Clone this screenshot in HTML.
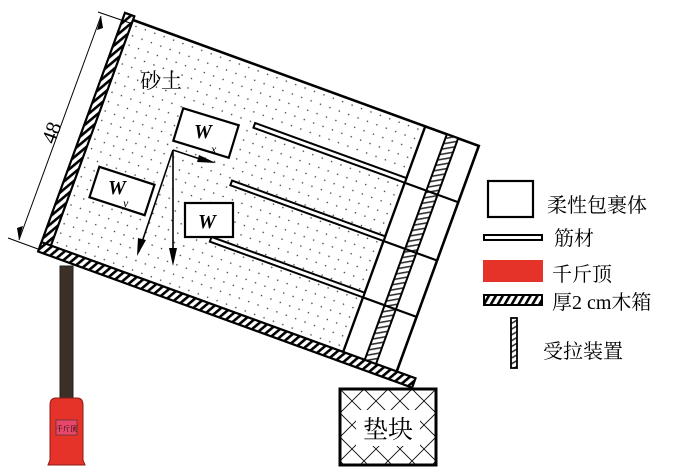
<!DOCTYPE html>
<html><head><meta charset="utf-8"><style>
html,body{margin:0;padding:0;background:#fff;}
svg{display:block;}
text{font-family:"Liberation Serif","Noto Serif CJK SC",serif;}
.cjk{font-family:"Liberation Serif","Noto Serif CJK SC","Noto Sans CJK SC",serif;}
</style></head><body>
<svg width="700" height="475" viewBox="0 0 700 475" xmlns="http://www.w3.org/2000/svg">
<defs>
<pattern id="dots" width="10" height="10" patternUnits="userSpaceOnUse">
<circle cx="5" cy="5" r="0.75" fill="#333"/>
</pattern>
<pattern id="hatch" width="6" height="10" patternUnits="userSpaceOnUse" patternTransform="rotate(30)">
<rect width="6" height="10" fill="#fff"/><rect width="2.6" height="10" fill="#000"/>
</pattern>
<pattern id="hatch2" width="5" height="10" patternUnits="userSpaceOnUse" patternTransform="rotate(60)">
<rect width="5" height="10" fill="#fff"/><rect width="1.6" height="10" fill="#333"/>
</pattern>
<pattern id="xh" width="24" height="24" patternUnits="userSpaceOnUse" x="340" y="389">
<path d="M0 0L24 24M24 0L0 24" stroke="#000" stroke-width="0.8"/>
</pattern>
</defs>

<!-- jack -->
<rect x="60" y="266" width="13" height="136" fill="#3b2f26" stroke="#222" stroke-width="1"/>
<path d="M50 405 Q50 398 56 398 L77 398 Q83 398 83 405 L83 460 L85 465 L48 465 L50 460 Z" fill="#e5332a" stroke="#8a1a14" stroke-width="1"/>
<rect x="56" y="420" width="21" height="15" fill="#e8476a" stroke="#333" stroke-width="0.6"/>
<text x="66.5" y="431" font-size="7" text-anchor="middle" class="cjk">千斤顶</text>

<!-- rotated box -->
<g transform="translate(133,20) rotate(20)">
<rect x="0" y="0" width="368" height="240" fill="#fff"/>
<rect x="0" y="0" width="310" height="240" fill="url(#dots)"/>
<path d="M0 0 L368 0 L368 240" fill="none" stroke="#000" stroke-width="2.6"/>
<rect x="-10" y="-4" width="10" height="248" fill="url(#hatch)" stroke="#000" stroke-width="2.2"/>
<rect x="-10" y="240" width="398" height="10" fill="url(#hatch)" stroke="#000" stroke-width="2.2"/>
<line x1="311" y1="0" x2="311" y2="240" stroke="#000" stroke-width="2.4"/>
<rect x="334" y="0" width="12" height="240" fill="url(#hatch2)" stroke="#000" stroke-width="2"/>
<line x1="311" y1="60" x2="368" y2="60" stroke="#000" stroke-width="2.2"/>
<line x1="311" y1="122" x2="368" y2="122" stroke="#000" stroke-width="2.2"/>
<line x1="311" y1="182" x2="368" y2="182" stroke="#000" stroke-width="2.2"/>
<rect x="150" y="55" width="161" height="5" fill="#fff" stroke="#000" stroke-width="2"/>
<rect x="148" y="117" width="163" height="5" fill="#fff" stroke="#000" stroke-width="2"/>
<rect x="148" y="177" width="163" height="5" fill="#fff" stroke="#000" stroke-width="2"/>
</g>

<!-- W boxes -->
<g transform="translate(206,133) rotate(17)"><rect x="-29" y="-17" width="58" height="34" fill="#fff" stroke="#000" stroke-width="2.2"/></g>
<text x="194" y="138" font-size="20" font-weight="bold" font-style="italic">W</text>
<text x="211" y="153" font-size="12" font-style="italic">x</text>
<g transform="translate(122,191) rotate(18)"><rect x="-29" y="-16" width="58" height="32" fill="#fff" stroke="#000" stroke-width="2.2"/></g>
<text x="108" y="194" font-size="20" font-weight="bold" font-style="italic">W</text>
<text x="123" y="207" font-size="12" font-style="italic">y</text>
<rect x="185" y="203" width="48" height="34" fill="#fff" stroke="#000" stroke-width="2.2"/>
<text x="198" y="228" font-size="20" font-weight="bold" font-style="italic">W</text>

<!-- force arrows -->
<line x1="173" y1="150" x2="173" y2="255" stroke="#000" stroke-width="1.6"/>
<path d="M169 248 L173 266 L177 248 Z" fill="#000"/>
<line x1="173" y1="150" x2="141" y2="245" stroke="#000" stroke-width="1.6"/>
<path d="M138 238 L137 256 L146 240 Z" fill="#000"/>
<line x1="173" y1="150" x2="206" y2="161" stroke="#000" stroke-width="1.6"/>
<path d="M199 155 L216 163 L197 162 Z" fill="#000"/>

<text x="140" y="88" font-size="21" class="cjk">砂土</text>

<!-- dimension -->
<line x1="98" y1="12" x2="130" y2="23" stroke="#000" stroke-width="1"/>
<line x1="8" y1="238" x2="38" y2="249" stroke="#000" stroke-width="1"/>
<line x1="101" y1="16" x2="19" y2="240" stroke="#000" stroke-width="1"/>
<path d="M101 16 L97 30 L103 28 Z" fill="#000"/>
<path d="M19 240 L23 226 L17 228 Z" fill="#000"/>
<text x="0" y="0" font-size="21" transform="translate(58,135) rotate(-70)" text-anchor="middle">48</text>

<!-- pad block -->
<rect x="340" y="389" width="96" height="76" fill="url(#xh)" stroke="#000" stroke-width="3"/>
<rect x="356" y="410" width="64" height="36" fill="#fff"/>
<text x="388" y="438" font-size="25" text-anchor="middle" class="cjk">垫块</text>

<!-- legend -->
<rect x="488" y="181" width="45" height="36" fill="#fff" stroke="#000" stroke-width="2.2"/>
<text x="547" y="212" font-size="20" class="cjk">柔性包裹体</text>
<rect x="484" y="235" width="58" height="5" fill="#fff" stroke="#000" stroke-width="2"/>
<text x="554" y="245" font-size="20" class="cjk">筋材</text>
<rect x="483" y="260" width="60" height="22" fill="#e5332a"/>
<text x="552" y="281" font-size="20" class="cjk">千斤顶</text>
<rect x="484" y="295" width="58" height="10" fill="url(#hatch)" stroke="#000" stroke-width="2"/>
<text x="552" y="309" font-size="20" class="cjk">厚2 cm木箱</text>
<rect x="511" y="318" width="6" height="50" fill="url(#hatch2)" stroke="#000" stroke-width="1.8"/>
<text x="543" y="358" font-size="20" class="cjk">受拉装置</text>
</svg>
</body></html>
